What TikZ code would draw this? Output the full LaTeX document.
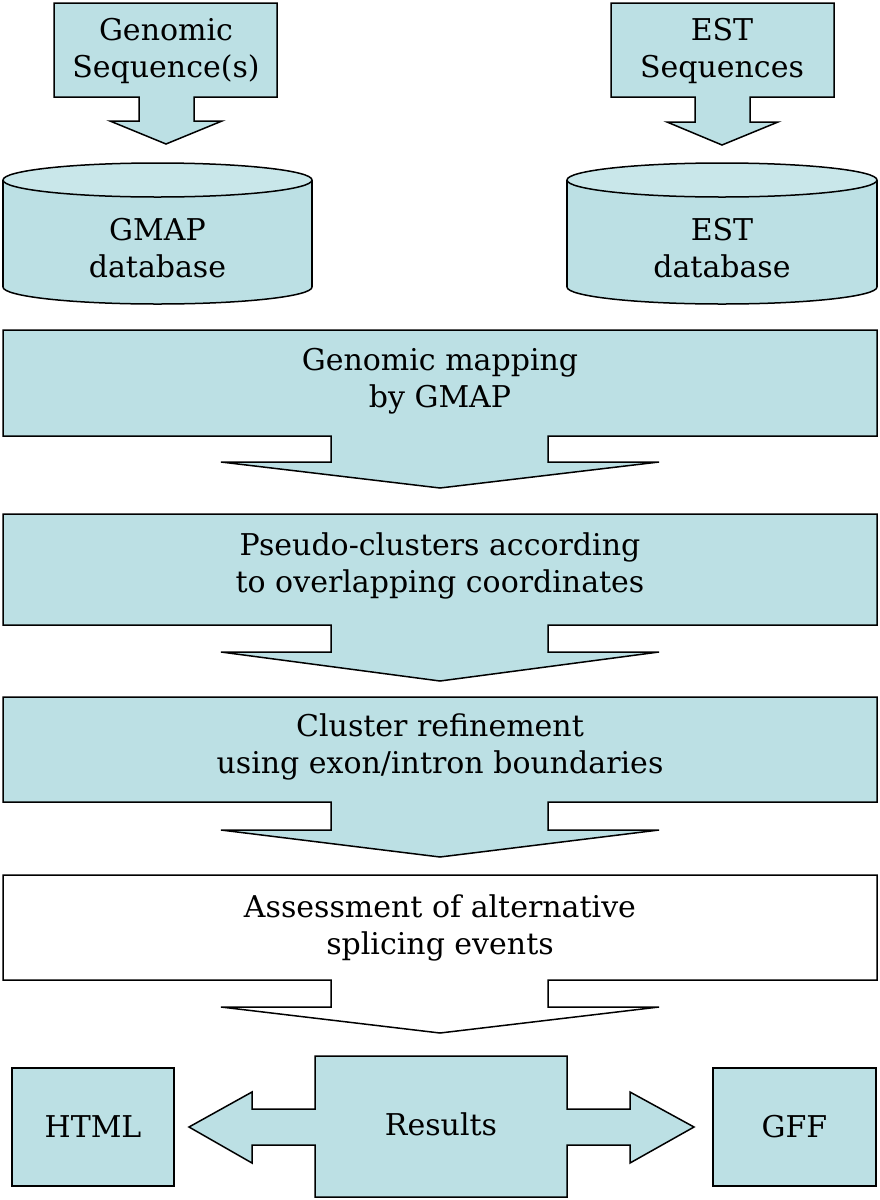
\documentclass[tikz,border=0pt]{standalone}
\usepackage{fontspec}
\setmainfont{DejaVu Serif}
\definecolor{cfill}{RGB}{188,224,228}
\definecolor{ctop}{RGB}{201,231,234}
\tikzset{
  shp/.style={draw=black, line width=1.5pt, fill=cfill, line join=miter},
  whiteshp/.style={draw=black, line width=1.5pt, fill=white, line join=miter},
  lbl/.style={align=center, font=\fontsize{30}{37}\selectfont, inner sep=0pt},
  outbox/.style={shp, minimum width=162pt, minimum height=118pt, inner sep=0pt, font=\fontsize{30}{37}\selectfont}
}
\begin{document}
\begin{tikzpicture}[x=1pt,y=-1pt]
\useasboundingbox (0,0) rectangle (880,1200);
\fill[white] (0,0) rectangle (880,1200);

% Genomic sequence(s) callout
\draw[shp] (54,3) -- (277,3) -- (277,97) -- (194,97) -- (194,121) -- (222,121) -- (166,144)
  -- (110,121) -- (139,121) -- (139,97) -- (54,97) -- cycle;
\node[lbl] (genseq) at (166,51) {Genomic\\Sequence(s)};

% EST sequences callout
\draw[shp] (611,3) -- (834,3) -- (834,97) -- (750,97) -- (750,122) -- (778,122) -- (722,145)
  -- (667,122) -- (695,122) -- (695,97) -- (611,97) -- cycle;
\node[lbl] (estseq) at (722,51) {EST\\Sequences};

% GMAP database cylinder
\draw[shp] (157.5,287) ellipse [x radius=154.5pt, y radius=17pt];
\fill[cfill] (3,180) rectangle (312,287);
\draw[line width=1.5pt] (3,180) -- (3,287) (312,180) -- (312,287);
\draw[shp, fill=ctop] (157.5,180) ellipse [x radius=154.5pt, y radius=17pt];
\node[lbl] (gmapdb) at (157.5,248) {GMAP\\database};

% EST database cylinder
\draw[shp] (722,287) ellipse [x radius=155pt, y radius=17pt];
\fill[cfill] (567,180) rectangle (877,287);
\draw[line width=1.5pt] (567,180) -- (567,287) (877,180) -- (877,287);
\draw[shp, fill=ctop] (722,180) ellipse [x radius=155pt, y radius=17pt];
\node[lbl] (estdb) at (722,248) {EST\\database};

% Genomic mapping
\draw[shp] (3,330) -- (877,330) -- (877,436) -- (548,436) -- (548,462) -- (659,462) -- (440,488)
  -- (221,462) -- (331,462) -- (331,436) -- (3,436) -- cycle;
\node[lbl] (map) at (440,381) {Genomic mapping\\by GMAP};

% Pseudo-clusters
\draw[shp] (3,514) -- (877,514) -- (877,625) -- (548,625) -- (548,652) -- (659,652) -- (440,681)
  -- (221,652) -- (331,652) -- (331,625) -- (3,625) -- cycle;
\node[lbl] (pseudo) at (440,566) {Pseudo-clusters according\\to overlapping coordinates};

% Cluster refinement
\draw[shp] (3,697) -- (877,697) -- (877,802) -- (548,802) -- (548,830) -- (659,830) -- (440,857)
  -- (221,830) -- (331,830) -- (331,802) -- (3,802) -- cycle;
\node[lbl] (refine) at (440,747) {Cluster refinement\\using exon/intron boundaries};

% Assessment (white)
\draw[whiteshp] (3,875) -- (877,875) -- (877,980) -- (548,980) -- (548,1007) -- (659,1007) -- (440,1033)
  -- (221,1007) -- (331,1007) -- (331,980) -- (3,980) -- cycle;
\node[lbl] (assess) at (440,928) {Assessment of alternative\\splicing events};

% Results double arrow
\draw[shp] (315,1056) -- (567,1056) -- (567,1109) -- (630,1109) -- (630,1092) -- (694,1127)
  -- (630,1163) -- (630,1145) -- (567,1145) -- (567,1197) -- (315,1197) -- (315,1145)
  -- (252,1145) -- (252,1163) -- (189,1127) -- (252,1092) -- (252,1109) -- (315,1109) -- cycle;
\node[lbl] (results) at (441,1124) {Results};

% Outputs
\node[outbox] (html) at (93,1127) {HTML};
\node[outbox, minimum width=163pt] (gff) at (794.5,1127) {GFF};
\end{tikzpicture}
\end{document}
